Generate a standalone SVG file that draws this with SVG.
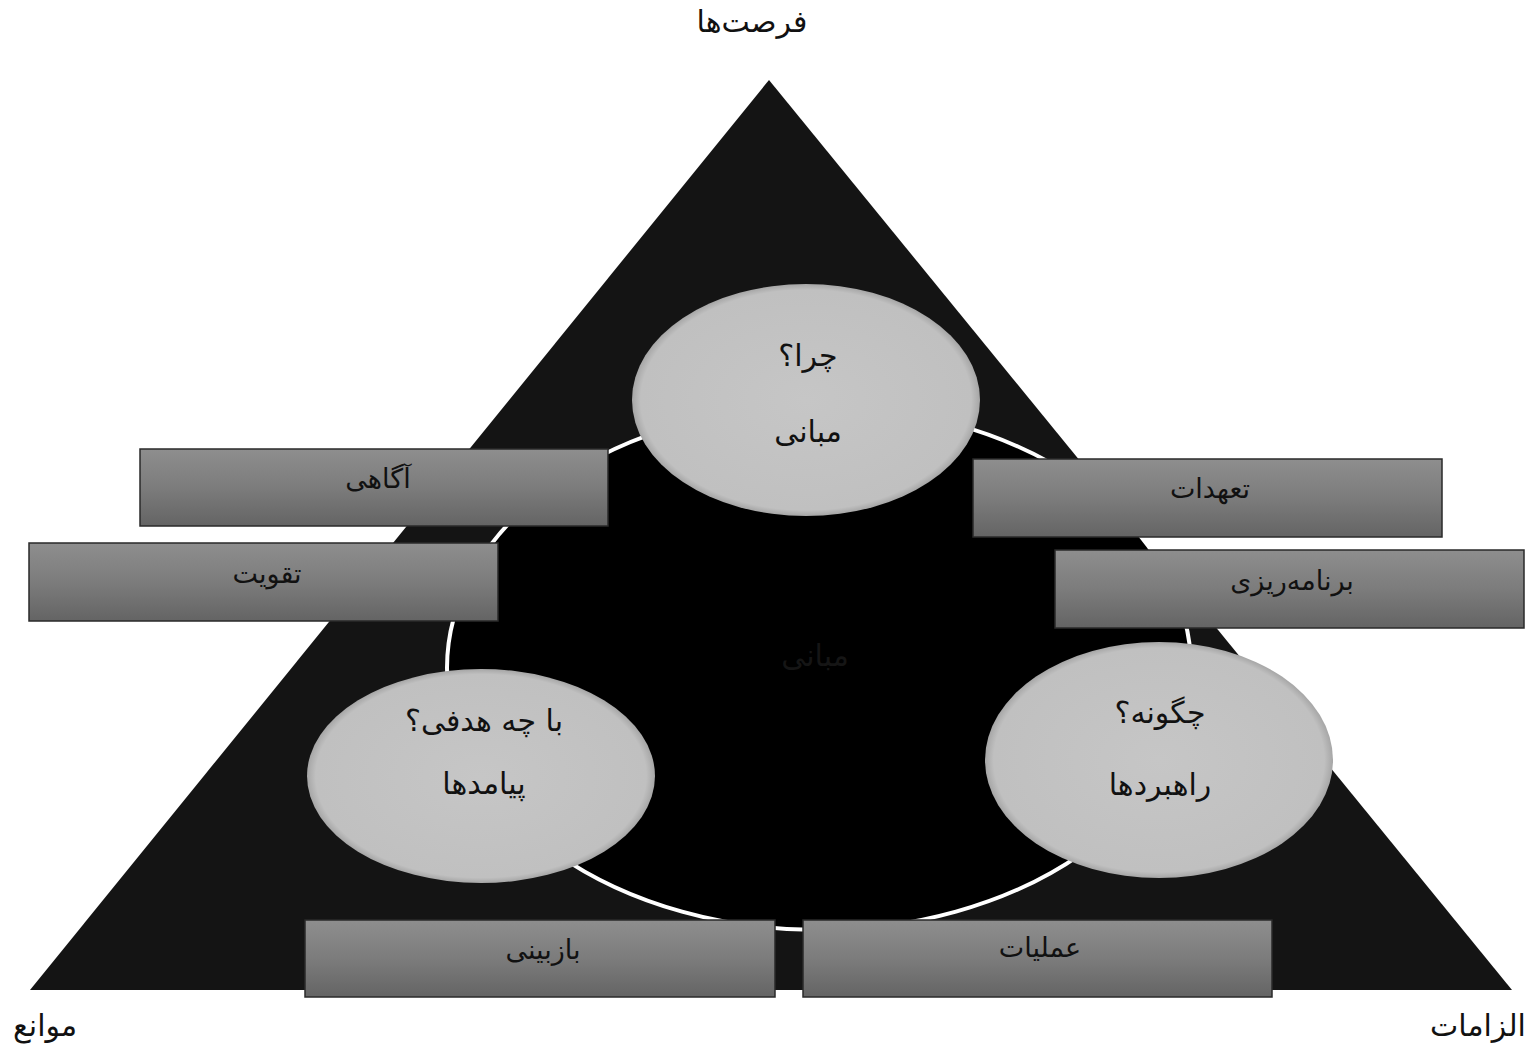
<svg xmlns="http://www.w3.org/2000/svg" width="1528" height="1044" viewBox="0 0 1528 1044">
<defs>
<linearGradient id="boxGrad" x1="0" y1="0" x2="0" y2="1">
<stop offset="0" stop-color="#8e8e8e"/>
<stop offset="0.5" stop-color="#7c7c7c"/>
<stop offset="1" stop-color="#646464"/>
</linearGradient>
<radialGradient id="circGrad" cx="0.5" cy="0.5" r="0.5">
<stop offset="0" stop-color="#c6c6c6"/>
<stop offset="0.95" stop-color="#c0c0c0"/>
<stop offset="1" stop-color="#a6a6a6"/>
</radialGradient>
</defs>
<style>
.t{font-family:"DejaVu Sans","Noto Sans",sans-serif;text-anchor:middle;fill:#111}
.box{fill:url(#boxGrad);stroke:#2a2a2a;stroke-width:1.5}
.circ{fill:url(#circGrad)}
.lbl{font-size:30px}
.ct{font-size:30px}
.bt{font-size:27px}
</style>
<rect width="1528" height="1044" fill="#ffffff"/>
<g id="triangle">
<polygon points="769,80 30,990 1512,990" fill="#141414"/>
</g>
<g id="core">
<ellipse cx="819" cy="668" rx="372" ry="262" fill="#000" stroke="#fff" stroke-width="4"/>
<text class="t ct" x="815" y="666" style="fill:#151515">مبانی</text>
</g>
<g id="labels">
<text class="t lbl" x="752" y="32">فرصت‌ها</text>
<text class="t lbl" x="45" y="1036">موانع</text>
<text class="t lbl" x="1478" y="1036">الزامات</text>
</g>
<g id="node-why">
<ellipse class="circ" cx="806" cy="400" rx="174" ry="116"/>
<text class="t ct" x="808" y="366">چرا؟</text>
<text class="t ct" x="808" y="442">مبانی</text>
</g>
<g id="node-goal">
<ellipse class="circ" cx="481" cy="776" rx="174" ry="107"/>
<text class="t ct" x="484" y="731">با چه هدفی؟</text>
<text class="t ct" x="484" y="794">پیامدها</text>
</g>
<g id="node-how">
<ellipse class="circ" cx="1159" cy="760" rx="174" ry="118"/>
<text class="t ct" x="1160" y="723">چگونه؟</text>
<text class="t ct" x="1160" y="795">راهبردها</text>
</g>
<g id="node-awareness">
<rect class="box" x="140" y="449" width="468" height="77"/>
<text class="t bt" x="378" y="488">آگاهی</text>
</g>
<g id="node-reinforce">
<rect class="box" x="29" y="543" width="469" height="78"/>
<text class="t bt" x="267" y="583">تقویت</text>
</g>
<g id="node-commit">
<rect class="box" x="973" y="459" width="469" height="78"/>
<text class="t bt" x="1210" y="498">تعهدات</text>
</g>
<g id="node-plan">
<rect class="box" x="1055" y="550" width="469" height="78"/>
<text class="t bt" x="1292" y="590">برنامه‌ریزی</text>
</g>
<g id="node-review">
<rect class="box" x="305" y="920" width="470" height="77"/>
<text class="t bt" x="543" y="959">بازبینی</text>
</g>
<g id="node-ops">
<rect class="box" x="803" y="920" width="469" height="77"/>
<text class="t bt" x="1040" y="957">عملیات</text>
</g>
<g id="connectors"></g>
</svg>
